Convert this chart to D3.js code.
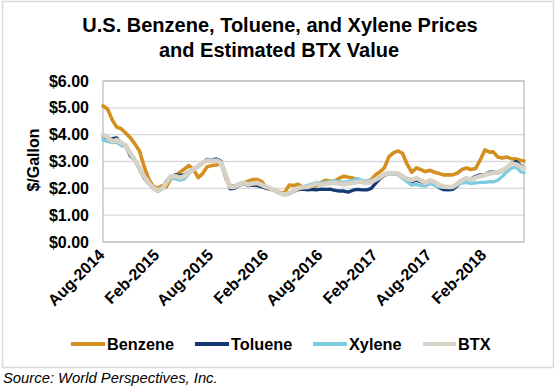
<!DOCTYPE html>
<html>
<head>
<meta charset="utf-8">
<script src="https://cdn.jsdelivr.net/npm/d3@7"></script>
<style>
  html, body { margin: 0; padding: 0; background: #fff; }
  svg { display: block; font-family: "Liberation Sans", Arial, Helvetica, sans-serif; }
</style>
</head>
<body>
<svg id="chart" width="557" height="390"></svg>
<script>
// ---- Data (semi-monthly observations, $/gallon) ----
const dates = [
  "2014-08-01","2014-08-16","2014-09-01","2014-09-16","2014-10-01","2014-10-16","2014-11-01","2014-11-16","2014-12-01","2014-12-16",
  "2015-01-01","2015-01-16","2015-02-01","2015-02-16","2015-03-01","2015-03-16","2015-04-01","2015-04-16","2015-05-01","2015-05-16",
  "2015-06-01","2015-06-16","2015-07-01","2015-07-16","2015-08-01","2015-08-16","2015-09-01","2015-09-16","2015-10-01","2015-10-16",
  "2015-11-01","2015-11-16","2015-12-01","2015-12-16","2016-01-01","2016-01-16","2016-02-01","2016-02-16","2016-03-01","2016-03-16",
  "2016-04-01","2016-04-16","2016-05-01","2016-05-16","2016-06-01","2016-06-16","2016-07-01","2016-07-16","2016-08-01","2016-08-16",
  "2016-09-01","2016-09-16","2016-10-01","2016-10-16","2016-11-01","2016-11-16","2016-12-01","2016-12-16","2017-01-01","2017-01-16",
  "2017-02-01","2017-02-16","2017-03-01","2017-03-16","2017-04-01","2017-04-16","2017-05-01","2017-05-16","2017-06-01","2017-06-16",
  "2017-07-01","2017-07-16","2017-08-01","2017-08-16","2017-09-01","2017-09-16","2017-10-01","2017-10-16","2017-11-01","2017-11-16",
  "2017-12-01","2017-12-16","2018-01-01","2018-01-16","2018-02-01","2018-02-16","2018-03-01","2018-03-16","2018-04-01","2018-04-16",
  "2018-05-01","2018-05-16","2018-06-01","2018-06-12"
];

const benzene = [
  5.07,4.96,4.55,4.28,4.22,4.06,3.88,3.65,3.40,2.85,
  2.35,2.08,2.00,2.10,2.05,2.35,2.47,2.60,2.72,2.85,
  2.70,2.40,2.55,2.80,2.85,2.87,2.95,2.40,2.10,2.08,
  2.15,2.20,2.27,2.33,2.33,2.24,2.00,1.97,1.93,1.85,
  1.84,2.12,2.10,2.15,2.04,2.00,2.03,2.10,2.22,2.30,
  2.26,2.27,2.38,2.45,2.41,2.38,2.33,2.27,2.24,2.33,
  2.52,2.63,2.76,3.17,3.33,3.39,3.30,2.90,2.60,2.76,
  2.70,2.62,2.67,2.60,2.55,2.50,2.50,2.50,2.57,2.70,
  2.76,2.70,2.74,3.05,3.43,3.35,3.36,3.17,3.13,3.17,
  3.10,3.09,3.04,3.02
];

const toluene = [
  3.95,3.85,3.85,3.88,3.65,3.60,3.20,3.05,2.72,2.40,
  2.18,2.00,1.90,2.00,2.25,2.45,2.50,2.48,2.50,2.62,
  2.72,2.82,2.95,3.08,3.05,3.10,3.00,2.45,1.98,2.00,
  2.12,2.18,2.10,2.12,2.10,2.05,2.00,1.96,1.90,1.82,
  1.76,1.80,1.88,1.95,1.97,1.94,1.96,1.94,1.97,1.96,
  1.97,1.92,1.90,1.90,1.86,1.93,1.96,1.94,1.94,2.00,
  2.20,2.38,2.48,2.55,2.55,2.52,2.42,2.32,2.25,2.30,
  2.25,2.15,2.22,2.18,2.02,1.95,1.94,1.96,2.10,2.30,
  2.35,2.35,2.45,2.50,2.52,2.60,2.60,2.58,2.66,2.78,
  2.92,3.00,2.85,2.78
];

const xylene = [
  3.80,3.75,3.70,3.72,3.60,3.55,3.30,3.05,2.75,2.45,
  2.22,2.05,1.92,1.98,2.20,2.38,2.35,2.30,2.35,2.55,
  2.70,2.80,2.95,3.05,3.05,3.00,2.92,2.45,2.05,2.08,
  2.18,2.22,2.16,2.20,2.22,2.14,2.05,1.98,1.90,1.80,
  1.74,1.80,1.90,2.02,2.06,2.10,2.16,2.22,2.20,2.22,
  2.26,2.28,2.25,2.22,2.26,2.30,2.36,2.30,2.26,2.30,
  2.35,2.42,2.50,2.55,2.55,2.50,2.38,2.25,2.12,2.15,
  2.10,2.08,2.18,2.12,2.05,2.05,2.04,2.05,2.12,2.20,
  2.22,2.18,2.20,2.22,2.22,2.25,2.24,2.30,2.45,2.62,
  2.75,2.80,2.62,2.58
];

const btx = [
  3.99,3.90,3.75,3.80,3.70,3.60,3.30,3.05,2.75,2.45,
  2.20,2.02,1.92,2.00,2.20,2.45,2.45,2.40,2.45,2.60,
  2.72,2.82,2.95,3.04,3.02,3.04,2.95,2.50,2.05,2.05,
  2.15,2.20,2.14,2.18,2.20,2.12,2.05,1.98,1.92,1.82,
  1.76,1.82,1.90,2.00,2.04,2.05,2.10,2.18,2.14,2.16,
  2.20,2.20,2.18,2.14,2.18,2.20,2.24,2.24,2.20,2.24,
  2.33,2.43,2.52,2.57,2.57,2.55,2.45,2.36,2.31,2.38,
  2.30,2.20,2.30,2.24,2.12,2.07,2.05,2.05,2.18,2.30,
  2.38,2.32,2.40,2.45,2.50,2.55,2.57,2.60,2.68,2.78,
  2.92,2.90,2.80,2.76
];

const seriesNames = ["Benzene", "Toluene", "Xylene", "BTX"];
const xTickDates = ["2014-08-01","2015-02-01","2015-08-01","2016-02-01","2016-08-01","2017-02-01","2017-08-01","2018-02-01"];
const yTicks = [0, 1, 2, 3, 4, 5, 6];

// ---- Setup ----
const parse = d3.timeParse("%Y-%m-%d");
const dateObjs = dates.map(parse);
const colors = { Benzene: "#d4901f", Toluene: "#143a74", Xylene: "#7ccbdf", BTX: "#d8d1c5" };
const widths = { Benzene: 3.6, Toluene: 3.3, Xylene: 3.3, BTX: 4.6 };
const valuesBy = { Benzene: benzene, Toluene: toluene, Xylene: xylene, BTX: btx };

const svg = d3.select("#chart");
const plotLeft = 103, plotRight = 524, plotTop = 81, plotBottom = 242;

// outer frame
svg.append("rect").attr("x", 2.5).attr("y", 1.5).attr("width", 551).attr("height", 366)
  .attr("fill", "#fff").attr("stroke", "#d9d9d9").attr("stroke-width", 1.5);

// title
const title = svg.append("text").attr("text-anchor", "middle").attr("font-weight", "bold")
  .attr("font-size", 20).attr("fill", "#000");
title.append("tspan").attr("x", 280).attr("y", 32).text("U.S. Benzene, Toluene, and Xylene Prices");
title.append("tspan").attr("x", 279).attr("y", 56.5).text("and Estimated BTX Value");

const x = d3.scaleTime().domain(d3.extent(dateObjs)).range([plotLeft, plotRight]);
const y = d3.scaleLinear().domain([0, 6]).range([plotBottom, plotTop]);

// gridlines
svg.append("g").selectAll("line").data(yTicks).join("line")
  .attr("x1", plotLeft).attr("x2", plotRight)
  .attr("y1", d => y(d)).attr("y2", d => y(d))
  .attr("stroke", "#d9d9d9").attr("stroke-width", 1.3);

// plot border
svg.append("rect").attr("x", plotLeft).attr("y", plotTop).attr("width", plotRight - plotLeft).attr("height", plotBottom - plotTop)
  .attr("fill", "none").attr("stroke", "#bfbfbf").attr("stroke-width", 1.3);

// y axis
const yAxis = d3.axisLeft(y).tickValues(yTicks).tickSize(0).tickPadding(0)
  .tickFormat(d => "$" + d3.format(".2f")(d));
const gy = svg.append("g").attr("transform", `translate(${89},0)`).call(yAxis);
gy.select(".domain").remove();
gy.selectAll("text").attr("font-size", 16).attr("font-weight", "bold").attr("fill", "#000")
  .attr("font-family", "Liberation Sans, Arial, sans-serif");

// y title
svg.append("text").attr("transform", "translate(39,160) rotate(-90)").attr("text-anchor", "middle")
  .attr("font-size", 16).attr("font-weight", "bold").attr("fill", "#000").text("$/Gallon");

// x axis
const fmt = d3.timeFormat("%b-%Y");
const xAxis = d3.axisBottom(x).tickValues(xTickDates.map(parse)).tickSize(0).tickPadding(0).tickFormat(fmt);
const gx = svg.append("g").attr("transform", `translate(0,${plotBottom})`).call(xAxis);
gx.select(".domain").remove();
gx.selectAll(".tick text")
  .attr("font-size", 16).attr("font-weight", "bold").attr("fill", "#000")
  .attr("font-family", "Liberation Sans, Arial, sans-serif")
  .attr("text-anchor", "end")
  .attr("dy", null).attr("y", 0)
  .attr("transform", "translate(2,14) rotate(-45)");

// lines
const line = d3.line().x((d, i) => x(dateObjs[i])).y(d => y(d)).curve(d3.curveLinear);
const gl = svg.append("g");
seriesNames.forEach(name => {
  gl.append("path").datum(valuesBy[name])
    .attr("d", line).attr("fill", "none")
    .attr("stroke", colors[name]).attr("stroke-width", widths[name])
    .attr("stroke-linejoin", "round").attr("stroke-linecap", "round");
});

// legend
const legendItems = [
  { name: "Benzene", x1: 71, x2: 105, tx: 107 },
  { name: "Toluene", x1: 195, x2: 229, tx: 231 },
  { name: "Xylene", x1: 313, x2: 347, tx: 349 },
  { name: "BTX", x1: 423, x2: 456, tx: 458 }
];
const lg = svg.append("g");
legendItems.forEach(it => {
  lg.append("line").attr("x1", it.x1).attr("x2", it.x2).attr("y1", 344).attr("y2", 344)
    .attr("stroke", colors[it.name]).attr("stroke-width", 4);
  lg.append("text").attr("x", it.tx).attr("y", 350).attr("font-size", 16.3).attr("font-weight", "bold")
    .attr("fill", "#000").text(it.name);
});

// source
svg.append("text").attr("x", 3).attr("y", 383).attr("font-size", 14.8).attr("font-style", "italic")
  .attr("fill", "#000").text("Source: World Perspectives, Inc.");
</script>
</body>
</html>
